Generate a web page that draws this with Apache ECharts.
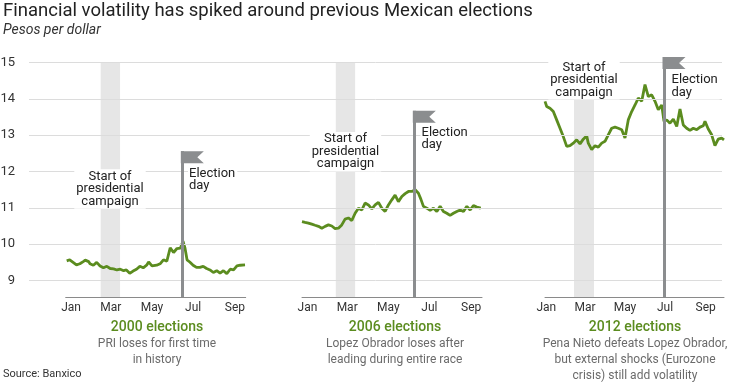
<!DOCTYPE html>
<html><head><meta charset="utf-8">
<script src="https://cdn.jsdelivr.net/npm/echarts@6/dist/echarts.min.js"></script>
<style>html,body{margin:0;padding:0;background:#fff}#c{width:730px;height:382px}</style>
</head><body><div id="c"></div>
<script>
// ---- data ----
const yTicks = [9, 10, 11, 12, 13, 14, 15];
const monthDays = [14, 73, 134, 195, 257];
const monthNames = ['Jan', 'Mar', 'May', 'Jul', 'Sep'];

const x2000 = [7.5,12,17,22,27,32,35,40,42,47,52,57,62,67,72,77,82,87,92,96,101,106,111,116,121,126,129,134,141,146,151,156,161,166,171,176,180,183,186,190,195,200,205,210,215,220,225,230,235,240,245,250,255,260,265,272];
const y2000 = [9.54,9.57,9.50,9.43,9.46,9.52,9.56,9.52,9.46,9.42,9.50,9.40,9.35,9.39,9.33,9.32,9.29,9.31,9.27,9.29,9.20,9.26,9.31,9.39,9.35,9.42,9.51,9.40,9.42,9.46,9.57,9.53,9.90,9.77,9.88,9.89,10.08,9.89,9.57,9.51,9.42,9.36,9.36,9.39,9.33,9.29,9.22,9.27,9.20,9.27,9.19,9.31,9.29,9.40,9.42,9.43];

const x2006 = [6,10.6,15.5,20.5,25.4,30.4,35.4,40.3,45.2,50.2,55.1,60,65,69.9,74.8,79.9,84.8,89.7,94.7,99.6,104.5,109.6,114.5,119.4,124.4,129.3,134.2,139.2,144.1,149,154.1,159,163.9,168.9,173.8,178.7,182.3,186.1,191.2,196.1,201,206,210.9,215.8,220.8,225.7,230.6,235.6,240.6,245.5,250.5,255.4,260.3,265.3,271.2];
const y2006 = [10.62,10.60,10.58,10.55,10.52,10.49,10.44,10.49,10.53,10.50,10.43,10.44,10.53,10.69,10.72,10.65,10.85,10.99,10.94,11.13,11.08,10.97,11.08,11.15,10.99,10.90,11.08,11.22,11.35,11.17,11.31,11.39,11.45,11.45,11.50,11.40,11.24,11.04,10.99,10.93,10.99,10.90,11.04,10.90,10.85,10.79,10.85,10.90,10.94,10.90,11.04,10.94,11.06,11.02,10.99];

const x2012 = [12,14.6,19.6,24.7,29.8,34.9,39.9,45.1,50.1,55.2,60.3,65.4,70.4,75.6,78,83.2,88.3,93.3,98.5,103.5,108.5,113.7,118.8,123.8,129,134,139,144.2,149.3,154.3,159.5,164.5,169.6,174.7,179.8,184.8,190,193.5,197.6,202.6,207.7,212.9,217.9,222.9,228.1,233.1,238.2,243.4,248.4,253.4,256,261,266.2,271.2,276.2,281.4,285];
const y2012 = [13.93,13.79,13.74,13.65,13.42,13.19,12.96,12.69,12.71,12.78,12.87,12.76,12.89,12.98,12.78,12.60,12.71,12.67,12.78,12.83,13.01,13.19,13.22,13.19,13.15,12.92,13.42,13.65,13.83,14.02,13.93,14.39,14.06,14.11,13.93,13.70,13.83,13.38,13.42,13.33,13.44,13.24,13.72,13.28,13.19,13.13,13.19,13.15,13.22,13.26,13.38,13.17,13.01,12.71,12.89,12.92,12.87];

const panelTitles = ['2000 elections', '2006 elections', '2012 elections'];
const panelNotes = [
  'PRI loses for first time\nin history',
  'Lopez Obrador loses after\nleading during entire race',
  'Pena Nieto defeats Lopez Obrador,\nbut external shocks (Eurozone\ncrisis) still add volatility'
];
const campaignStart = [57.9, 56.1, 56.2];
const campaignEnd = [86.6, 84.8, 86.7];
const electionDay = [179, 172.6, 193.5];
const flagTop = [12.56, 13.67, 15.15];

// ---- layout ----
const Y_MIN = 8.546, Y_MAX = 15.2, TOP = 55.2, H = 241.8;
const panelLeft = [65.7, 302, 545];
const panelWidth = [180, 180, 179];
const xMin = [6, 6, 12], xMax = [273, 273, 285];
const xs = [x2000, x2006, x2012], ys = [y2000, y2006, y2012];
const GREEN = '#5b8c1f', GREY = '#8b8d8f';
const FONT = 'Roboto, sans-serif';

const grids = [{left: 29, top: TOP, width: 693, height: H}];
const xAxes = [{gridIndex: 0, type: 'value', min: 0, max: 1, show: false}];
const yAxes = [{
  gridIndex: 0, type: 'value', min: Y_MIN, max: Y_MAX,
  axisLine: {show: false}, axisTick: {show: false}, splitLine: {show: false},
  axisLabel: {customValues: yTicks, margin: 14, color: '#333', fontSize: 13, fontFamily: FONT}
}];
const series = [{
  type: 'line', xAxisIndex: 0, yAxisIndex: 0, data: [[-1, 5]], showSymbol: false,
  lineStyle: {width: 0}, silent: true, z: 0,
  markLine: {silent: true, symbol: ['none', 'none'], label: {show: false},
    lineStyle: {color: '#dcdcdc', width: 1, type: 'solid'},
    data: yTicks.map(v => ({yAxis: v}))}
}];
const flagPath = 'path://M0,0 L23,0 L16.5,6 L23,12 L0,12 Z';

for (let i = 0; i < 3; i++) {
  const gi = i + 1;
  grids.push({left: panelLeft[i], top: TOP, width: panelWidth[i], height: H});
  xAxes.push({
    gridIndex: gi, type: 'value', min: xMin[i], max: xMax[i],
    axisLine: {show: true, lineStyle: {color: '#8a8a8a', width: 1}},
    axisTick: {show: false}, splitLine: {show: false},
    axisLabel: {customValues: monthDays, margin: 5, color: '#333', fontSize: 12, fontFamily: FONT,
      formatter: v => monthNames[monthDays.indexOf(v)] || ''}
  });
  yAxes.push({gridIndex: gi, type: 'value', min: Y_MIN, max: Y_MAX, show: false, splitLine: {show: false}});
  series.push({
    type: 'line', xAxisIndex: gi, yAxisIndex: gi, data: [], silent: true, z: 1,
    markArea: {silent: true, itemStyle: {color: '#e6e6e6'},
      data: [[{xAxis: campaignStart[i], yAxis: 15}, {xAxis: campaignEnd[i], yAxis: Y_MIN}]]},
    markLine: {silent: true, symbol: ['none', 'none'], label: {show: false},
      lineStyle: {color: GREY, width: 3, type: 'solid'},
      data: [[{coord: [electionDay[i], Y_MIN]}, {coord: [electionDay[i], flagTop[i]]}]]},
    markPoint: {silent: true, symbol: flagPath, symbolSize: [23, 12], symbolOffset: [10, 6],
      itemStyle: {color: GREY}, label: {show: false},
      data: [{coord: [electionDay[i], flagTop[i]]}]}
  });
  series.push({
    type: 'line', xAxisIndex: gi, yAxisIndex: gi, z: 3, silent: true,
    data: xs[i].map((x, k) => [x, ys[i][k]]),
    showSymbol: false, lineStyle: {color: GREEN, width: 2.8}
  });
}

const annoFont = '13px ' + FONT;
const graphic = [
  {type: 'text', left: 3, top: 2, style: {text: 'Financial volatility has spiked around previous Mexican elections', font: '18.5px ' + FONT, fill: '#222'}},
  {type: 'text', left: 3, top: 23, style: {text: 'Pesos per dollar', font: 'italic 14px ' + FONT, fill: '#333'}},
  {type: 'text', left: 3, top: 369, style: {text: 'Source: Banxico', font: '11px ' + FONT, fill: '#333'}}
];
const startX = [110, 345.5, 584], startY = [189, 151.7, 79.8];
const elecX = [188, 420.5, 670.5], elecY = [179.5, 138.8, 86];
const titleX = [157, 395, 635];
for (let i = 0; i < 3; i++) {
  graphic.push({type: 'text', z: 50, style: {text: 'Start of\npresidential\ncampaign', x: startX[i], y: startY[i],
    align: 'center', verticalAlign: 'middle', font: annoFont, lineHeight: 12.5, fill: '#222',
    backgroundColor: '#fff', padding: [1, 2]}});
  graphic.push({type: 'text', z: 50, style: {text: 'Election\nday', x: elecX[i], y: elecY[i],
    align: 'left', verticalAlign: 'middle', font: annoFont, lineHeight: 12.5, fill: '#222',
    backgroundColor: '#fff', padding: [1, 2, 1, 1]}});
  graphic.push({type: 'text', z: 50, style: {text: panelTitles[i], x: titleX[i], y: 327.5,
    align: 'center', verticalAlign: 'middle', font: '500 14px ' + FONT, fill: GREEN}});
  graphic.push({type: 'text', z: 50, style: {text: panelNotes[i], x: titleX[i], y: 335.5,
    align: 'center', verticalAlign: 'top', font: '12px ' + FONT, lineHeight: 16, fill: '#6b6b6b'}});
}

const chart = echarts.init(document.getElementById('c'), null, {renderer: 'canvas'});
chart.setOption({
  animation: false,
  backgroundColor: '#fff',
  grid: grids.map(g => Object.assign({outerBoundsMode: 'none', containLabel: false}, g)),
  xAxis: xAxes, yAxis: yAxes, series: series, graphic: graphic
});
</script></body></html>
